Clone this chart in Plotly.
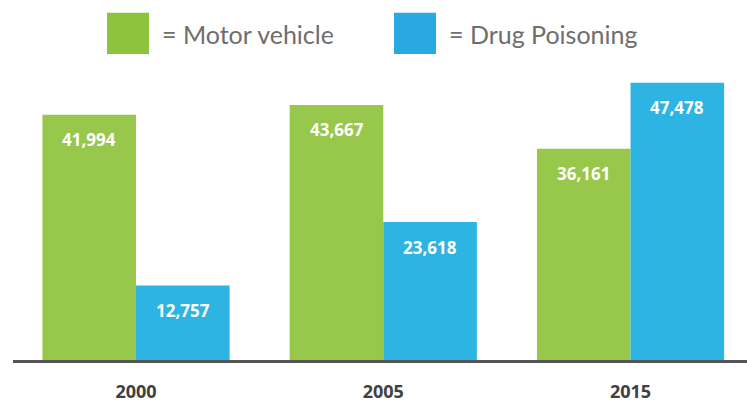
import plotly.graph_objects as go

years = ["2000", "2005", "2015"]
motor_vehicle = [41994, 43667, 36161]
drug_poisoning = [12757, 23618, 47478]
series_names = ["= Motor vehicle", "= Drug Poisoning"]

W, H = 747, 403
ML, MR, MT, MB = 13, 0, 60, 39
PW, PH = W - ML - MR, H - MT - MB

def px_x(px):
    return (px - ML) / PW

def px_y(py):
    return (H - MB - py) / PH

GREEN, BLUE = "#97c74b", "#2db4e3"
LEG_GREEN, LEG_BLUE = "#8cc43e", "#29a9e1"

fig = go.Figure()
fig.add_trace(go.Bar(x=years, y=motor_vehicle, name=series_names[0],
                     marker=dict(color=GREEN, line=dict(width=0)), hoverinfo="x+y"))
fig.add_trace(go.Bar(x=years, y=drug_poisoning, name=series_names[1],
                     marker=dict(color=BLUE, line=dict(width=0)), hoverinfo="x+y"))

annotations = []
bar_w_px = 93.5
for vals, shift in ((motor_vehicle, -bar_w_px / 2), (drug_poisoning, bar_w_px / 2)):
    for i, v in enumerate(vals):
        annotations.append(dict(x=i, y=v, xref="x", yref="y", text=f"<b>{v:,}</b>",
                                showarrow=False, xshift=shift, yshift=-25,
                                xanchor="center", yanchor="middle",
                                font=dict(family="Open Sans", size=17, color="white")))

# legend (custom large swatches)
shapes = []
for (x0, x1, col) in ((107, 149, LEG_GREEN), (394, 436, LEG_BLUE)):
    shapes.append(dict(type="rect", xref="paper", yref="paper",
                       x0=px_x(x0), x1=px_x(x1), y0=px_y(54), y1=px_y(12),
                       fillcolor=col, line=dict(width=0), layer="above"))
for name, xl in zip(series_names, (160, 447)):
    annotations.append(dict(x=px_x(xl), y=px_y(34), xref="paper", yref="paper",
                            text=name, showarrow=False, xanchor="left", yanchor="middle",
                            font=dict(family="Lato", size=25, color="#6e6e6e")))

fig.update_layout(
    width=W, height=H,
    margin=dict(l=ML, r=MR, t=MT, b=MB),
    paper_bgcolor="white", plot_bgcolor="white",
    barmode="group", bargap=0.243, bargroupgap=0,
    showlegend=False,
    annotations=annotations, shapes=shapes,
    xaxis=dict(type="category", range=[-0.4975, 2.471], showline=True, linecolor="#555555",
               linewidth=2.5, showgrid=False, zeroline=False, ticks="", ticklabelstandoff=14,
               tickfont=dict(family="Open Sans", size=18, color="#404040", weight="bold")),
    yaxis=dict(range=[0, 51195 * (H - MT - MB) / 303], visible=False, showgrid=False, zeroline=False),
)

fig.write_html("out.html", config={"displayModeBar": False},
               post_script="document.body.style.margin='0';")
